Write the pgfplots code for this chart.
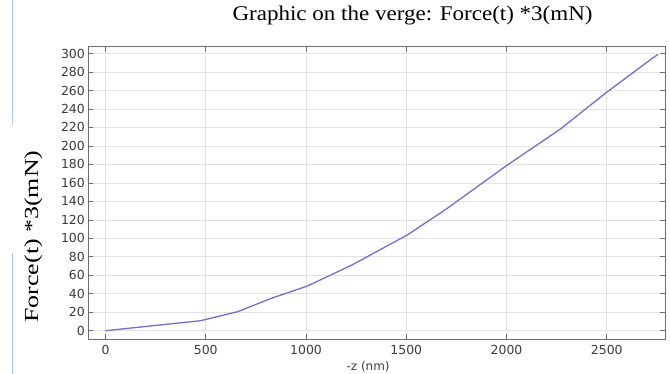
\documentclass[border=0pt]{standalone}
\usepackage{pgfplots}
\pgfplotsset{compat=1.18}
\usepackage{fontspec}
\setmainfont{Liberation Serif}
\newfontfamily\tickfont{DejaVu Sans}
\definecolor{linecol}{RGB}{112,112,204}
\definecolor{gridcol}{RGB}{226,226,226}
\definecolor{framecol}{RGB}{110,110,110}
\definecolor{labcol}{RGB}{60,60,60}
\definecolor{edgeblue}{RGB}{175,205,230}
\begin{document}
\begin{tikzpicture}
\useasboundingbox (-88.3bp,-34.7bp) rectangle (581.7bp,339.3bp);
\draw[edgeblue, line width=1bp] (-75.3bp,339.3bp) -- (-75.3bp,214.3bp);
\draw[edgeblue, line width=1bp] (-75.3bp,86.3bp) -- (-75.3bp,-34.7bp);
\begin{axis}[
  at={(0,0)}, anchor=south west,
  scale only axis, width=577bp, height=292.6bp,
  xmin=-86, xmax=2792, ymin=-9.3, ymax=307.4,
  xtick={0,500,...,2500}, ytick={0,20,...,300},
  grid=major, major grid style={gridcol, line width=0.6bp},
  axis line style={framecol, line width=0.7bp},
  tick style={framecol, line width=0.6bp},
  major tick length=5bp, tick pos=both, tick align=inside,
  /pgf/number format/assume math mode=true,
  /pgf/number format/1000 sep={},
  tick label style={font=\tickfont\fontsize{12.5}{12.5}\selectfont, text=labcol},
  xticklabel style={yshift=-2bp},
  title={\scalebox{1.1}[1]{Graphic on the verge: Force(t) *3(mN)}},
  title style={at={(axis description cs:0.562,1)}, anchor=base, yshift=20bp, font=\fontsize{21}{21}\selectfont},
  xlabel={-z (nm)},
  xlabel style={at={(axis description cs:0.485,0)}, anchor=base, yshift=-31.7bp, font=\tickfont\fontsize{12}{12}\selectfont, text=labcol},
  ylabel={\scalebox{1.3}[1]{Force(t) *3(mN)}},
  ylabel style={at={(axis description cs:-0.0953,0.351)}, anchor=center, font=\fontsize{20}{20}\selectfont},
]
\addplot[linecol, line width=1.3bp, mark=none, line join=round] coordinates {
(0,0) (474,10.8) (659,20.6) (826,35) (1007,48.4) (1228,71) (1504,103.5)
(1695,131) (2002,179) (2267,218) (2499,258) (2725,294.5) (2755,299)
};
\end{axis}
\end{tikzpicture}
\end{document}
